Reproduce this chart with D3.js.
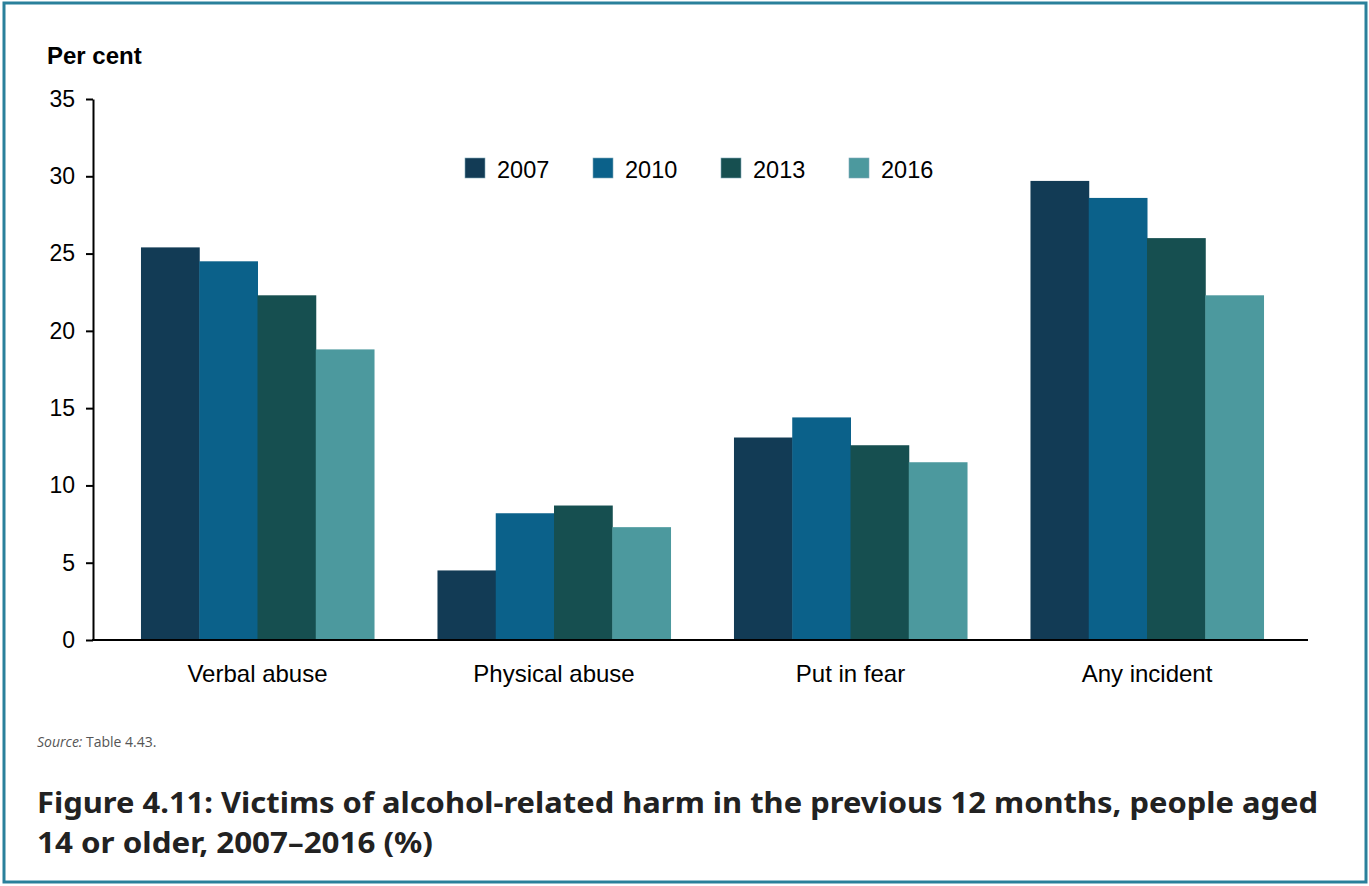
<!DOCTYPE html>
<html><head><meta charset="utf-8">
<script src="https://cdn.jsdelivr.net/npm/d3@7"></script>
<style>body{margin:0;background:#fff}svg{display:block}</style>
</head><body>
<svg id="c" width="1369" height="886"></svg>
<script>
const categories = ["Verbal abuse", "Physical abuse", "Put in fear", "Any incident"];
const years = ["2007", "2010", "2013", "2016"];
const v2007 = [25.4, 4.5, 13.1, 29.7];
const v2010 = [24.5, 8.2, 14.4, 28.6];
const v2013 = [22.3, 8.7, 12.6, 26.0];
const v2016 = [18.8, 7.3, 11.5, 22.3];
const yTicks = [0, 5, 10, 15, 20, 25, 30, 35];
const colors = ["#123b55", "#0b618a", "#164f50", "#4c999e"];
const seriesValues = [v2007, v2010, v2013, v2016];

const svg = d3.select("#c");
const font = "'Liberation Sans', Arial, sans-serif";

svg.append("rect").attr("x", 4).attr("y", 3).attr("width", 1362).attr("height", 879)
  .attr("fill", "none").attr("stroke", "#2a809b").attr("stroke-width", 3);

const y = d3.scaleLinear().domain([0, 35]).range([640, 99]);
const x0 = d3.scaleBand().domain(categories).range([109.25, 1295.25]).paddingInner(0.214).paddingOuter(0.107);
const x1 = d3.scaleBand().domain(years).range([0, x0.bandwidth()]);

// bars
categories.forEach((cat, ci) => {
  years.forEach((yr, si) => {
    const val = seriesValues[si][ci];
    svg.append("rect")
      .attr("x", x0(cat) + x1(yr))
      .attr("y", y(val))
      .attr("width", x1.bandwidth() + 0.5)
      .attr("height", y(0) - y(val))
      .attr("fill", colors[si]);
  });
});

// y axis
const yAxis = svg.append("g").attr("transform", "translate(93,0)")
  .call(d3.axisLeft(y).tickValues(yTicks).tickSize(7).tickPadding(11).tickSizeOuter(0));
yAxis.select(".domain").attr("stroke", "#000").attr("stroke-width", 2);
yAxis.selectAll(".tick line").attr("stroke", "#000").attr("stroke-width", 2);
yAxis.selectAll(".tick text").attr("font-family", font).attr("font-size", 23).attr("fill", "#000");

// x axis line
svg.append("line").attr("x1", 92).attr("x2", 1308).attr("y1", 640).attr("y2", 640)
  .attr("stroke", "#000").attr("stroke-width", 2);

// category labels
svg.selectAll(".cat").data(categories).enter().append("text")
  .attr("x", d => x0(d) + x0.bandwidth() / 2)
  .attr("y", 682)
  .attr("text-anchor", "middle")
  .attr("font-family", font).attr("font-size", 24).attr("fill", "#000")
  .text(d => d);

// y title
svg.append("text").attr("x", 47).attr("y", 64).attr("font-family", font)
  .attr("font-size", 24).attr("font-weight", "bold").attr("fill", "#000").text("Per cent");

// legend
const leg = svg.append("g");
years.forEach((yr, i) => {
  const lx = 465 + i * 128;
  leg.append("rect").attr("x", lx).attr("y", 158).attr("width", 20).attr("height", 20)
    .attr("fill", colors[i]).attr("stroke", "#7fa9b8").attr("stroke-width", 0.6);
  leg.append("text").attr("x", lx + 32).attr("y", 177.5).attr("font-family", font)
    .attr("font-size", 23.5).attr("fill", "#000").text(yr);
});

// source
const src = svg.append("text").attr("x", 37).attr("y", 747)
  .attr("font-family", "'Open Sans', 'Noto Sans', sans-serif").attr("font-size", 14).attr("fill", "#555");
src.append("tspan").attr("font-style", "italic").text("Source:");
src.append("tspan").text(" Table 4.43.");

// title
const tfont = "'Noto Sans', 'Open Sans', sans-serif";
const t1 = svg.append("text").attr("x", 37).attr("y", 813).attr("font-family", tfont)
  .attr("font-size", 29).attr("font-weight", "bold").attr("fill", "#222")
  .text("Figure 4.11: Victims of alcohol-related harm in the previous 12 months, people aged");
const t2 = svg.append("text").attr("x", 37).attr("y", 853).attr("font-family", tfont)
  .attr("font-size", 29).attr("font-weight", "bold").attr("fill", "#222")
  .text("14 or older, 2007\u20132016 (%)");
t1.attr("textLength", 1281).attr("lengthAdjust", "spacingAndGlyphs");
t2.attr("textLength", 396).attr("lengthAdjust", "spacingAndGlyphs");
</script>
</body></html>
